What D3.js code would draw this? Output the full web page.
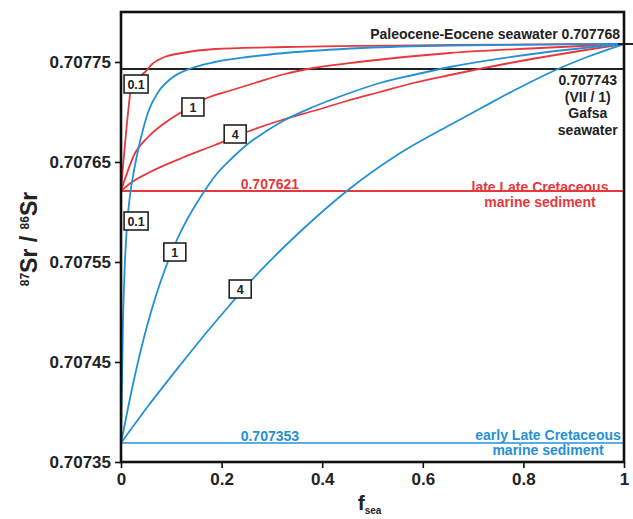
<!DOCTYPE html>
<html><head><meta charset="utf-8">
<script src="https://cdn.jsdelivr.net/npm/d3@7"></script>
<style>
html,body{margin:0;padding:0;background:#fff;}
text{font-family:"Liberation Sans",Arial,Helvetica,sans-serif;font-weight:bold;}
</style></head><body>
<svg id="chart" width="633" height="519"></svg>
<script>
// ---------- data ----------
const xTicks = [0, 0.2, 0.4, 0.6, 0.8, 1];
const xTickLabels = ["0", "0.2", "0.4", "0.6", "0.8", "1"];
const yTicks = [0.70735, 0.70745, 0.70755, 0.70765, 0.70775];
const yTickLabels = ["0.70735", "0.70745", "0.70755", "0.70765", "0.70775"];

const paleoSeawater = 0.707768;
const gafsaSeawater = 0.707743;
const lateSediment = 0.707621;
const earlySedimentDrawn = 0.707369;   // position of the line as drawn
const earlySedimentLabel = "0.707353";

// red curves (late Late Cretaceous sediment -> seawater)
const red01F = [0, 0.005, 0.01, 0.015, 0.02, 0.034, 0.048, 0.062, 0.087, 0.121, 0.187, 0.326, 0.654, 1];
const red01R = [0.707621, 0.707652, 0.707679, 0.707704, 0.707724, 0.707734, 0.70774, 0.707748, 0.707755, 0.707759, 0.707763, 0.707765, 0.707767, 0.707768];
const red1F = [0, 0.028, 0.054, 0.087, 0.117, 0.171, 0.221, 0.266, 0.326, 0.382, 0.481, 0.654, 0.833, 1];
const red1R = [0.707621, 0.707659, 0.707675, 0.707689, 0.707699, 0.707714, 0.707722, 0.707729, 0.707738, 0.707744, 0.7077505, 0.707759, 0.707764, 0.707768];
const red4F = [0, 0.022, 0.054, 0.121, 0.187, 0.25, 0.326, 0.382, 0.449, 0.515, 0.581, 0.654, 0.773, 1];
const red4R = [0.707621, 0.70763, 0.707639, 0.707654, 0.707667, 0.70768, 0.707693, 0.707701, 0.707711, 0.70772, 0.707729, 0.707737, 0.707749, 0.707768];

// blue curves (early Late Cretaceous sediment -> seawater)
const blue01F = [0, 0.004, 0.008, 0.012, 0.018, 0.026, 0.034, 0.042, 0.054, 0.074, 0.101, 0.141, 0.187, 0.252, 0.326, 0.48, 0.654, 1];
const blue01R = [0.707369, 0.707492, 0.707552, 0.707587, 0.707617, 0.707642, 0.707662, 0.707679, 0.7077, 0.70772, 0.707734, 0.707744, 0.70775, 0.707755, 0.707759, 0.707764, 0.7077665, 0.707768];
const blue1F = [0, 0.018, 0.038, 0.054, 0.068, 0.087, 0.111, 0.133, 0.157, 0.187, 0.221, 0.252, 0.286, 0.326, 0.382, 0.449, 0.515, 0.581, 0.654, 0.833, 1];
const blue1R = [0.707369, 0.707414, 0.707459, 0.70749, 0.707514, 0.707542, 0.707572, 0.707594, 0.707614, 0.707636, 0.707654, 0.707668, 0.70768, 0.707692, 0.707705, 0.707718, 0.707729, 0.707737, 0.707745, 0.707759, 0.707768];
const blue4F = [0, 0.054, 0.121, 0.161, 0.213, 0.26, 0.322, 0.386, 0.449, 0.549, 0.654, 0.72, 0.787, 0.873, 0.932, 1];
const blue4R = [0.707369, 0.707406, 0.707449, 0.707474, 0.707505, 0.707532, 0.707564, 0.707594, 0.707621, 0.707657, 0.707687, 0.707705, 0.707723, 0.707744, 0.707756, 0.707768];

// curve labels: text, anchor (f, ratio)
const curveLabelText = ["0.1", "1", "4", "0.1", "1", "4"];
const curveLabelF = [0.030, 0.143, 0.227, 0.030, 0.107, 0.237];
const curveLabelR = [0.707728, 0.707705, 0.707678, 0.707591, 0.70756, 0.707523];

// ---------- drawing ----------
const RED = "#e8373d", BLUE = "#2490d6", BLACK = "#111";
const svg = d3.select("#chart");
const x = d3.scaleLinear().domain([0, 1]).range([121, 624]);
const y = d3.scaleLinear().domain([0.70735, 0.7078]).range([462, 12]);

const line = d3.line().x(d => x(d[0])).y(d => y(d[1])).curve(d3.curveMonotoneX);
const zip = (a, b) => a.map((v, i) => [v, b[i]]);

// horizontal reference lines
svg.append("line").attr("x1", x(0)).attr("x2", x(1)).attr("y1", y(lateSediment)).attr("y2", y(lateSediment))
  .attr("stroke", RED).attr("stroke-width", 2.2);
svg.append("line").attr("x1", x(0)).attr("x2", x(1)).attr("y1", y(earlySedimentDrawn)).attr("y2", y(earlySedimentDrawn))
  .attr("stroke", BLUE).attr("stroke-width", 1.6);
svg.append("line").attr("x1", x(0)).attr("x2", x(1)).attr("y1", y(gafsaSeawater)).attr("y2", y(gafsaSeawater))
  .attr("stroke", "#222").attr("stroke-width", 2);

const series = [
  [red01F, red01R, RED], [red1F, red1R, RED], [red4F, red4R, RED],
  [blue01F, blue01R, BLUE], [blue1F, blue1R, BLUE], [blue4F, blue4R, BLUE]
];
series.forEach(s => {
  svg.append("path").datum(zip(s[0], s[1])).attr("d", line)
    .attr("fill", "none").attr("stroke", s[2]).attr("stroke-width", 1.8);
});

// short black stub at seawater end-member
svg.append("line").attr("x1", x(1) - 6).attr("x2", x(1) + 12).attr("y1", y(paleoSeawater)).attr("y2", y(paleoSeawater))
  .attr("stroke", "#222").attr("stroke-width", 2);

// curve label boxes
curveLabelText.forEach((t, i) => {
  const cx = x(curveLabelF[i]), cy = y(curveLabelR[i]);
  const w = t.length > 1 ? 24 : 22;
  svg.append("rect").attr("x", cx - w / 2).attr("y", cy - 9).attr("width", w).attr("height", 18)
    .attr("fill", "#fff").attr("stroke", "#222").attr("stroke-width", 1.6);
  svg.append("text").attr("x", cx).attr("y", cy + 4.5).attr("text-anchor", "middle")
    .attr("font-size", 12.5).attr("fill", "#222").text(t);
});

// annotations
svg.append("text").attr("x", x(1) - 4).attr("y", y(paleoSeawater) - 5).attr("text-anchor", "end")
  .attr("font-size", 14).attr("fill", "#222").text("Paleocene-Eocene seawater " + paleoSeawater.toFixed(6));
const gafsaLines = [gafsaSeawater.toFixed(6), "(VII / 1)", "Gafsa", "seawater"];
gafsaLines.forEach((t, i) => {
  svg.append("text").attr("x", x(0.928)).attr("y", y(gafsaSeawater) + 16 + i * 16.5).attr("text-anchor", "middle")
    .attr("font-size", 14).attr("fill", "#222").text(t);
});
svg.append("text").attr("x", x(0.296)).attr("y", y(lateSediment) - 2).attr("text-anchor", "middle")
  .attr("font-size", 14).attr("fill", RED).text(lateSediment.toFixed(6));
svg.append("text").attr("x", x(0.833)).attr("y", y(lateSediment) + 1).attr("text-anchor", "middle")
  .attr("font-size", 14).attr("fill", RED).text("late Late Cretaceous");
svg.append("text").attr("x", x(0.833)).attr("y", y(lateSediment) + 16).attr("text-anchor", "middle")
  .attr("font-size", 14).attr("fill", RED).text("marine sediment");
svg.append("text").attr("x", x(0.296)).attr("y", y(earlySedimentDrawn) - 2).attr("text-anchor", "middle")
  .attr("font-size", 14).attr("fill", BLUE).text(earlySedimentLabel);
svg.append("text").attr("x", x(0.849)).attr("y", y(earlySedimentDrawn) - 3).attr("text-anchor", "middle")
  .attr("font-size", 14).attr("fill", BLUE).text("early Late Cretaceous");
svg.append("text").attr("x", x(0.849)).attr("y", y(earlySedimentDrawn) + 12).attr("text-anchor", "middle")
  .attr("font-size", 14).attr("fill", BLUE).text("marine sediment");

// frame
svg.append("rect").attr("x", x(0)).attr("y", y(0.7078)).attr("width", x(1) - x(0)).attr("height", y(0.70735) - y(0.7078))
  .attr("fill", "none").attr("stroke", BLACK).attr("stroke-width", 2.6);

// axes
const yAxis = d3.axisLeft(y).tickValues(yTicks).tickFormat((d, i) => yTickLabels[i]).tickSize(6).tickPadding(4);
const gy = svg.append("g").attr("transform", `translate(${x(0)},0)`).call(yAxis);
const xAxis = d3.axisBottom(x).tickValues(xTicks).tickFormat((d, i) => xTickLabels[i]).tickSize(6).tickPadding(5);
const gx = svg.append("g").attr("transform", `translate(0,${y(0.70735)})`).call(xAxis);
[gx, gy].forEach(g => {
  g.select(".domain").remove();
  g.selectAll(".tick line").attr("stroke", BLACK).attr("stroke-width", 1.6);
  g.selectAll(".tick text").attr("font-size", 17).attr("fill", "#222")
    .attr("font-family", '"Liberation Sans",Arial,sans-serif').attr("font-weight", "bold");
});

// axis titles
const yt = svg.append("text").attr("transform", `translate(37,${(y(0.70735) + y(0.7078)) / 2 + 2}) rotate(-90)`)
  .attr("text-anchor", "middle").attr("fill", "#222");
yt.append("tspan").attr("font-size", 12).attr("dy", -8).text("87");
yt.append("tspan").attr("font-size", 23).attr("dy", 8).text("Sr / ");
yt.append("tspan").attr("font-size", 12).attr("dy", -8).text("86");
yt.append("tspan").attr("font-size", 23).attr("dy", 8).text("Sr");

const xt = svg.append("text").attr("x", (x(0) + x(1)) / 2 - 3).attr("y", 510).attr("text-anchor", "middle").attr("fill", "#222");
xt.append("tspan").attr("font-size", 21).text("f");
xt.append("tspan").attr("font-size", 10).attr("dy", 4).text("sea");
</script>
</body></html>
